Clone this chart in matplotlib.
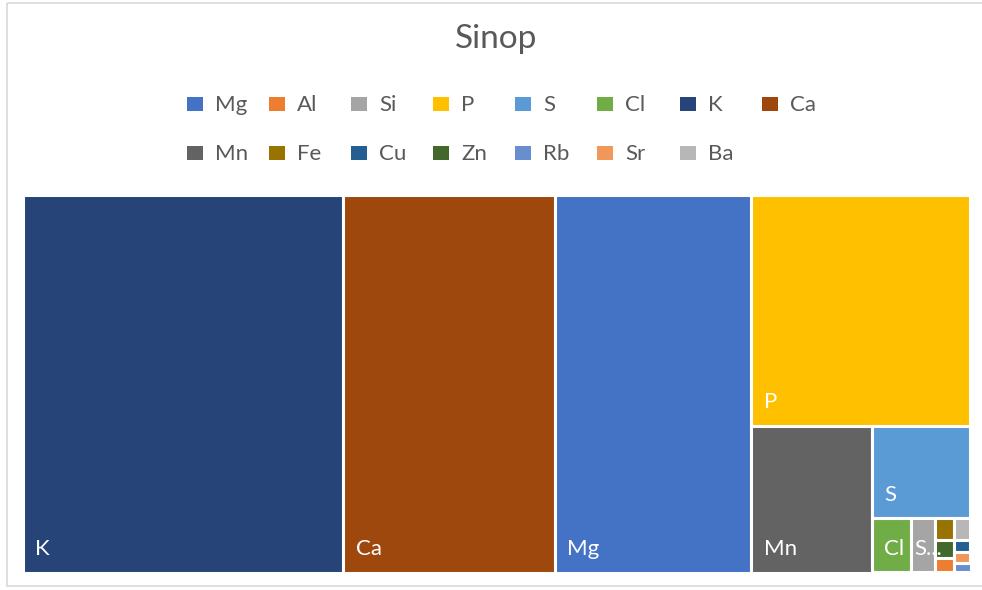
import matplotlib
matplotlib.use("Agg")
import matplotlib.pyplot as plt
from matplotlib.patches import Rectangle

# Element concentrations, Sinop sample
elements = ['Mg', 'Al', 'Si', 'P', 'S', 'Cl', 'K', 'Ca',
            'Mn', 'Fe', 'Cu', 'Zn', 'Rb', 'Sr', 'Ba']
values = [7330, 27, 128, 4990, 906, 214, 11950, 7890,
          1746, 39, 20, 35, 15.5, 17, 35.5]
colors = ['#4472C4', '#ED7D31', '#A5A5A5', '#FFC000', '#5B9BD5', '#70AD47', '#264478', '#9E480E',
          '#636363', '#997300', '#255E91', '#43682B', '#698ED0', '#F1975A', '#B7B7B7']

W_PX, H_PX = 982, 590
FONT = ['Lato', 'DejaVu Sans']
TEXT_GRAY = '#595959'


def worst(row, side):
    s = sum(row)
    return max(max(side * side * r / (s * s), (s * s) / (side * side * r)) for r in row)


def squarify(areas, x, y, w, h):
    """Squarified treemap layout; areas sorted descending, y grows downwards."""
    rects = []
    rest = list(areas)
    while rest:
        side = min(w, h)
        row = [rest[0]]
        i = 1
        while i < len(rest) and worst(row + [rest[i]], side) <= worst(row, side):
            row.append(rest[i])
            i += 1
        rest = rest[i:]
        s = sum(row)
        if w >= h:
            cw = s / h
            yy = y
            for a in row:
                rh = a / cw
                rects.append((x, yy, cw, rh))
                yy += rh
            x += cw
            w -= cw
        else:
            rh = s / w
            xx = x
            for a in row:
                rw = a / rh
                rects.append((xx, y, rw, rh))
                xx += rw
            y += rh
            h -= rh
    return rects


fig = plt.figure(figsize=(W_PX / 100, H_PX / 100), dpi=100)

# overlay in pixel coordinates for title, legend and frame
bg = fig.add_axes([0, 0, 1, 1])
bg.set_xlim(0, W_PX)
bg.set_ylim(H_PX, 0)
bg.axis('off')
bg.add_patch(Rectangle((7.5, 2.5), 990, 583.5, fill=False, edgecolor='#D9D9D9', linewidth=1.2))
bg.text(496, 39, 'Sinop', ha='center', va='center', fontsize=24, color=TEXT_GRAY, family=FONT)

for i, (name, col) in enumerate(zip(elements, colors)):
    r, c = divmod(i, 8)
    lx = 187 + c * 82.1
    ly = 104 + r * 49
    bg.add_patch(Rectangle((lx, ly - 7), 16, 14, facecolor=col, edgecolor='none'))
    bg.text(lx + 28, ly + 1, name, ha='left', va='center', fontsize=16, color=TEXT_GRAY, family=FONT)

# treemap area
x0, y0, tw, th = 22.5, 195.5, 948, 377
ax = fig.add_axes([x0 / W_PX, 1 - (y0 + th) / H_PX, tw / W_PX, th / H_PX])
ax.set_xlim(0, tw)
ax.set_ylim(th, 0)
ax.axis('off')

order = sorted(range(len(values)), key=lambda k: -values[k])
total = sum(values)
areas = [values[k] / total * tw * th for k in order]
rects = squarify(areas, 0, 0, tw, th)

fig.canvas.draw()
renderer = fig.canvas.get_renderer()
for k, (rx, ry, rw, rh) in zip(order, rects):
    patch = Rectangle((rx, ry), rw, rh, facecolor=colors[k], edgecolor='white', linewidth=2.2)
    ax.add_patch(patch)
    if rw * rh < 1000:
        continue
    pad = 12.5 if rw > 30 else 2.5
    t = ax.text(rx + pad, ry + rh - 17.5, elements[k], ha='left', va='baseline',
                fontsize=16, color='white', family=FONT)
    t.set_clip_path(patch)
    # shorten labels that do not leave room inside the cell
    bb = t.get_window_extent(renderer)
    if bb.width > rw - 12.5:
        t.set_text(elements[k][0] + '...')

fig.savefig('out.png', dpi=100)
